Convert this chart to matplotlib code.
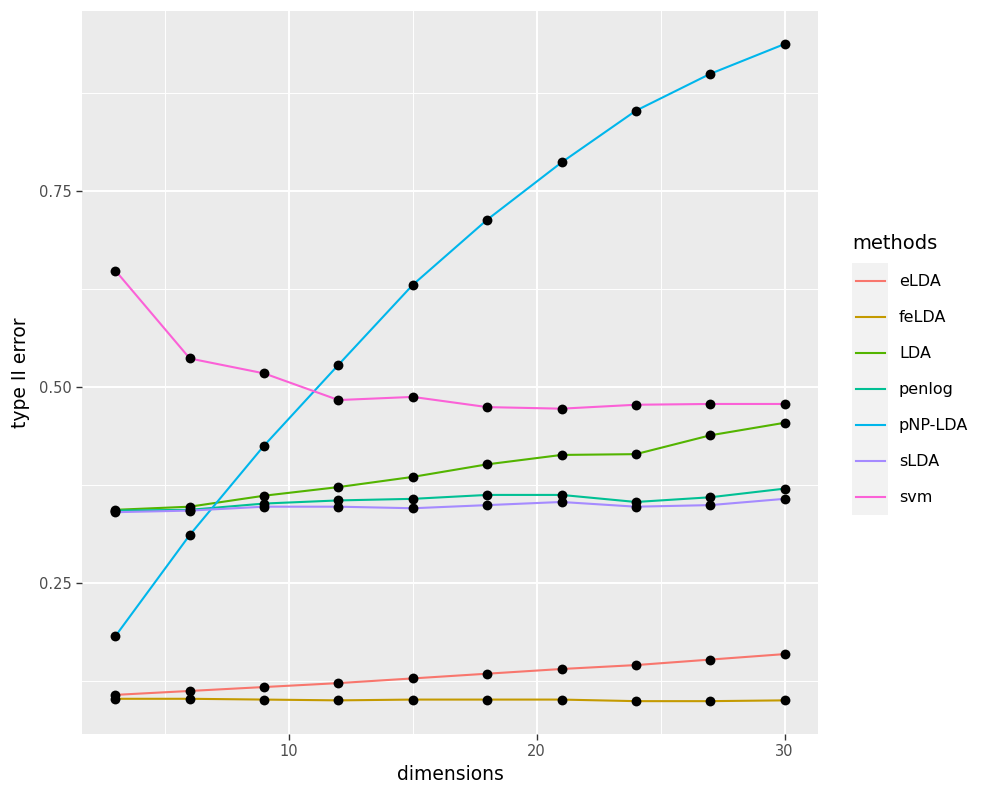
import matplotlib
matplotlib.use("Agg")
import matplotlib.pyplot as plt
from matplotlib.lines import Line2D

# data
dimensions = [3, 6, 9, 12, 15, 18, 21, 24, 27, 30]
methods = ["eLDA", "feLDA", "LDA", "penlog", "pNP-LDA", "sLDA", "svm"]
colors = ["#F8766D", "#C49A00", "#53B400", "#00C094", "#00B6EB", "#A58AFF", "#FB61D7"]

eLDA = [0.107, 0.112, 0.117, 0.122, 0.128, 0.134, 0.140, 0.145, 0.152, 0.159]
feLDA = [0.102, 0.102, 0.101, 0.100, 0.101, 0.101, 0.101, 0.099, 0.099, 0.100]
LDA = [0.343, 0.347, 0.361, 0.372, 0.385, 0.401, 0.413, 0.414, 0.438, 0.454]
penlog = [0.342, 0.343, 0.351, 0.355, 0.357, 0.362, 0.362, 0.353, 0.359, 0.370]
pNP_LDA = [0.182, 0.311, 0.425, 0.528, 0.630, 0.713, 0.786, 0.852, 0.899, 0.937]
sLDA = [0.340, 0.342, 0.347, 0.347, 0.345, 0.349, 0.353, 0.347, 0.349, 0.357]
svm = [0.648, 0.536, 0.517, 0.483, 0.487, 0.474, 0.472, 0.477, 0.478, 0.478]

series = [eLDA, feLDA, LDA, penlog, pNP_LDA, sLDA, svm]

fig = plt.figure(figsize=(10, 8), dpi=100)
ax = fig.add_axes([0.082, 0.0825, 0.736, 0.9035])
ax.set_facecolor("#EBEBEB")

# lines first, then points on top
for vals, col in zip(series, colors):
    ax.plot(dimensions, vals, color=col, lw=1.5, zorder=3)
for vals in series:
    ax.scatter(dimensions, vals, s=50, color="black", zorder=4, linewidths=0)

# ggplot-like expansion
xr = max(dimensions) - min(dimensions)
ax.set_xlim(min(dimensions) - 0.05 * xr, max(dimensions) + 0.05 * xr)
allv = [v for s in series for v in s]
yr = max(allv) - min(allv)
ax.set_ylim(min(allv) - 0.05 * yr, max(allv) + 0.05 * yr)

ax.set_xticks([10, 20, 30])
ax.set_xticks([5, 15, 25], minor=True)
ax.set_yticks([0.25, 0.50, 0.75])
ax.set_yticklabels(["0.25", "0.50", "0.75"])
ax.set_yticks([0.125, 0.375, 0.625, 0.875], minor=True)

ax.grid(which="major", color="white", lw=1.4, zorder=0)
ax.grid(which="minor", color="white", lw=0.7, zorder=0)
ax.set_axisbelow(True)
for sp in ax.spines.values():
    sp.set_visible(False)
ax.tick_params(which="major", length=4, width=1, color="#333333",
               labelsize=10.5, labelcolor="#4D4D4D")
ax.tick_params(which="minor", length=0)

ax.set_xlabel("dimensions", fontsize=13.5, color="black", labelpad=4)
ax.set_ylabel("type II error", fontsize=13.5, color="black", labelpad=6)

# legend drawn ggplot style
fig.text(0.852, 0.696, "methods", fontsize=14, ha="left", va="center")
key_top = 0.671
key_h = 0.045
fig.patches.append(plt.Rectangle((0.852, key_top - key_h * len(methods)), 0.036,
                                 key_h * len(methods), transform=fig.transFigure,
                                 facecolor="#F2F2F2", edgecolor="none"))
for i, (m, col) in enumerate(zip(methods, colors)):
    yc = key_top - key_h * (i + 0.5)
    fig.lines.append(Line2D([0.8555, 0.8845], [yc, yc], transform=fig.transFigure,
                            color=col, lw=1.5))
    fig.text(0.899, yc, m, fontsize=11.5, ha="left", va="center")

fig.savefig("out.png", dpi=100)
